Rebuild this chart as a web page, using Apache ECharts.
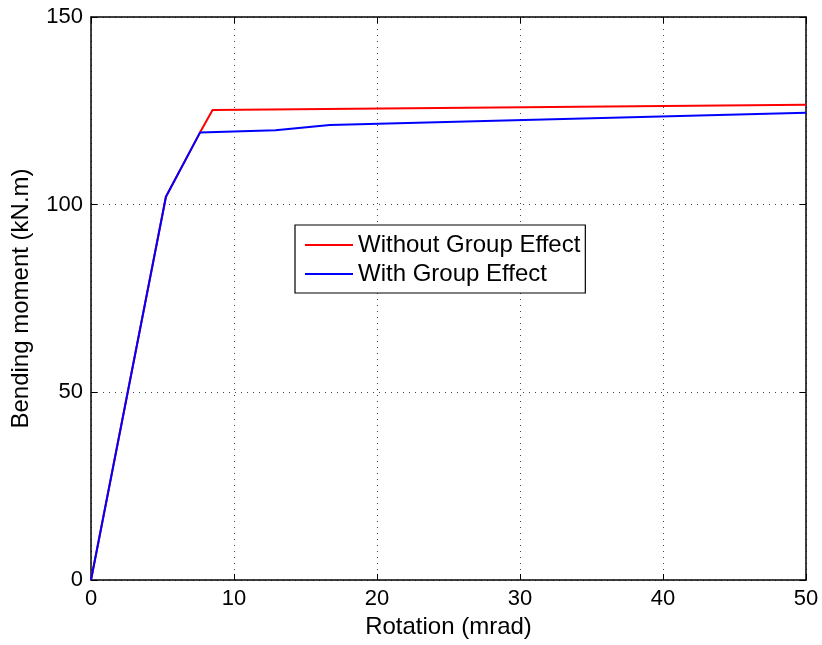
<!DOCTYPE html>
<html><head><meta charset="utf-8">
<script src="https://cdn.jsdelivr.net/npm/echarts@6/dist/echarts.min.js"></script>
<style>html,body{margin:0;padding:0;background:#fff}#c{width:822px;height:645px}</style>
</head><body><div id="c"></div>
<script>
const seriesNames = ["Without Group Effect", "With Group Effect"];
const withoutX = [0, 5.24, 7.62, 8.5, 50];
const withoutY = [0, 102.1, 119.2, 125.2, 126.6];
const withX = [0, 5.24, 7.62, 12.9, 16.7, 50];
const withY = [0, 102.1, 119.2, 119.8, 121.2, 124.5];
const xTicks = [0, 10, 20, 30, 40, 50];
const yTicks = [0, 50, 100, 150];

const font = "Liberation Sans, Arial, sans-serif";
const chart = echarts.init(document.getElementById('c'));
const zip = (xs, ys) => xs.map((x, i) => [x, ys[i]]);
const axisCommon = {
  type: 'value',
  axisLine: {show: true, onZero: false, lineStyle: {color: '#000', width: 1.5}},
  axisTick: {show: true, inside: true, length: 6, lineStyle: {color: '#000', width: 1}},
};
chart.setOption({
  animation: false,
  grid: {left: 91, right: 16, top: 17, bottom: 65, containLabel: false},
  xAxis: [
    Object.assign({}, axisCommon, {
      min: xTicks[0], max: xTicks[xTicks.length - 1], interval: xTicks[1] - xTicks[0], position: 'bottom',
      name: 'Rotation (mrad)', nameLocation: 'middle', nameGap: 24,
      nameTextStyle: {fontFamily: font, fontSize: 24, color: '#000'},
      axisLabel: {fontFamily: font, fontSize: 22, color: '#000', margin: 8},
      splitLine: {show: true, lineStyle: {color: '#444', type: [1, 5], width: 1}}
    }),
    Object.assign({}, axisCommon, {
      min: xTicks[0], max: xTicks[xTicks.length - 1], interval: xTicks[1] - xTicks[0], position: 'top',
      axisLabel: {show: false}, splitLine: {show: false}
    })
  ],
  yAxis: [
    Object.assign({}, axisCommon, {
      min: yTicks[0], max: yTicks[yTicks.length - 1], interval: yTicks[1] - yTicks[0], position: 'left',
      name: 'Bending moment (kN.m)', nameLocation: 'middle', nameGap: 58,
      nameTextStyle: {fontFamily: font, fontSize: 24, color: '#000'},
      axisLabel: {fontFamily: font, fontSize: 22, color: '#000', margin: 8},
      splitLine: {show: true, lineStyle: {color: '#444', type: [1, 5], width: 1}}
    }),
    Object.assign({}, axisCommon, {
      min: yTicks[0], max: yTicks[yTicks.length - 1], interval: yTicks[1] - yTicks[0], position: 'right',
      axisLabel: {show: false}, splitLine: {show: false}
    })
  ],
  legend: {
    show: true,
    left: 295, top: 225, orient: 'vertical',
    padding: [8, 5, 7, 10],
    itemGap: 5,
    backgroundColor: '#fff',
    borderColor: '#000', borderWidth: 1.2,
    itemWidth: 48, itemHeight: 2,
    icon: 'rect',
    textStyle: {fontFamily: font, fontSize: 24, color: '#000'},
    data: seriesNames
  },
  series: [
    {name: seriesNames[0], type: 'line', data: zip(withoutX, withoutY), symbol: 'none',
     lineStyle: {color: '#ff0000', width: 2}, itemStyle: {color: '#ff0000'}, z: 3},
    {name: seriesNames[1], type: 'line', data: zip(withX, withY), symbol: 'none',
     lineStyle: {color: '#0000ff', width: 2}, itemStyle: {color: '#0000ff'}, z: 4}
  ]
});
</script></body></html>
